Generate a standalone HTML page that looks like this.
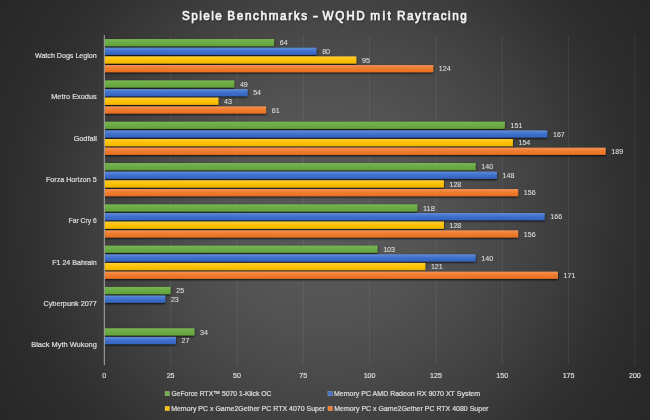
<!DOCTYPE html>
<html><head><meta charset="utf-8"><title>Spiele Benchmarks - WQHD mit Raytracing</title>
<style>
html,body{margin:0;padding:0;background:#262626;}
body{width:650px;height:420px;overflow:hidden;}
svg{display:block;font-family:"Liberation Sans",sans-serif;}
</style></head><body>
<svg width="650" height="420" viewBox="0 0 650 420">
<defs>
<radialGradient id="bg" cx="325" cy="210" r="387" gradientUnits="userSpaceOnUse">
<stop offset="0.0000" stop-color="#595959"/>
<stop offset="0.2326" stop-color="#555555"/>
<stop offset="0.2997" stop-color="#525252"/>
<stop offset="0.4651" stop-color="#484848"/>
<stop offset="0.6021" stop-color="#3e3e3e"/>
<stop offset="0.7106" stop-color="#353535"/>
<stop offset="0.7881" stop-color="#2f2f2f"/>
<stop offset="0.8269" stop-color="#2d2d2d"/>
<stop offset="1.0000" stop-color="#272727"/>
</radialGradient>
<linearGradient id="g" x1="0" y1="0" x2="0" y2="1"><stop offset="0" stop-color="#78b552"/><stop offset=".5" stop-color="#6bab45"/><stop offset="1" stop-color="#62a23c"/></linearGradient>
<linearGradient id="b" x1="0" y1="0" x2="0" y2="1"><stop offset="0" stop-color="#618bd8"/><stop offset=".5" stop-color="#3f70cb"/><stop offset="1" stop-color="#3363bf"/></linearGradient>
<linearGradient id="y" x1="0" y1="0" x2="0" y2="1"><stop offset="0" stop-color="#ffcd38"/><stop offset=".5" stop-color="#fec200"/><stop offset="1" stop-color="#f0b600"/></linearGradient>
<linearGradient id="o" x1="0" y1="0" x2="0" y2="1"><stop offset="0" stop-color="#f39355"/><stop offset=".5" stop-color="#ee7b2d"/><stop offset="1" stop-color="#e97021"/></linearGradient>
<filter id="sh" x="-5%" y="-5%" width="110%" height="110%"><feDropShadow dx="0" dy="1" stdDeviation="1.25" flood-color="#000" flood-opacity=".9"/></filter>
<filter id="ts" x="-5%" y="-50%" width="110%" height="200%"><feDropShadow dx="0.7" dy="0.7" stdDeviation="0.8" flood-color="#000" flood-opacity=".4"/></filter>
</defs>
<rect width="650" height="420" fill="url(#bg)"/>

<g stroke="#fff" stroke-opacity=".075" stroke-width="1">
<line x1="170.62" y1="35" x2="170.62" y2="365.2"/>
<line x1="236.95" y1="35" x2="236.95" y2="365.2"/>
<line x1="303.27" y1="35" x2="303.27" y2="365.2"/>
<line x1="369.60" y1="35" x2="369.60" y2="365.2"/>
<line x1="435.93" y1="35" x2="435.93" y2="365.2"/>
<line x1="502.25" y1="35" x2="502.25" y2="365.2"/>
<line x1="568.57" y1="35" x2="568.57" y2="365.2"/>
<line x1="634.90" y1="35" x2="634.90" y2="365.2"/>
</g>
<g filter="url(#sh)">
<rect x="104.8" y="39.05" width="169.29" height="7.15" fill="url(#g)"/>
<rect x="104.8" y="47.72" width="211.74" height="7.15" fill="url(#b)"/>
<rect x="104.8" y="56.39" width="251.53" height="7.15" fill="url(#y)"/>
<rect x="104.8" y="65.06" width="328.47" height="7.15" fill="url(#o)"/>
<rect x="104.8" y="80.37" width="129.50" height="7.15" fill="url(#g)"/>
<rect x="104.8" y="89.04" width="142.76" height="7.15" fill="url(#b)"/>
<rect x="104.8" y="97.71" width="113.58" height="7.15" fill="url(#y)"/>
<rect x="104.8" y="106.38" width="161.33" height="7.15" fill="url(#o)"/>
<rect x="104.8" y="121.69" width="400.10" height="7.15" fill="url(#g)"/>
<rect x="104.8" y="130.36" width="442.55" height="7.15" fill="url(#b)"/>
<rect x="104.8" y="139.03" width="408.06" height="7.15" fill="url(#y)"/>
<rect x="104.8" y="147.70" width="500.92" height="7.15" fill="url(#o)"/>
<rect x="104.8" y="163.01" width="370.92" height="7.15" fill="url(#g)"/>
<rect x="104.8" y="171.68" width="392.14" height="7.15" fill="url(#b)"/>
<rect x="104.8" y="180.35" width="339.08" height="7.15" fill="url(#y)"/>
<rect x="104.8" y="189.02" width="413.37" height="7.15" fill="url(#o)"/>
<rect x="104.8" y="204.33" width="312.55" height="7.15" fill="url(#g)"/>
<rect x="104.8" y="213.00" width="439.90" height="7.15" fill="url(#b)"/>
<rect x="104.8" y="221.67" width="339.08" height="7.15" fill="url(#y)"/>
<rect x="104.8" y="230.34" width="413.37" height="7.15" fill="url(#o)"/>
<rect x="104.8" y="245.65" width="272.76" height="7.15" fill="url(#g)"/>
<rect x="104.8" y="254.32" width="370.92" height="7.15" fill="url(#b)"/>
<rect x="104.8" y="262.99" width="320.51" height="7.15" fill="url(#y)"/>
<rect x="104.8" y="271.66" width="453.16" height="7.15" fill="url(#o)"/>
<rect x="104.8" y="286.97" width="65.83" height="7.15" fill="url(#g)"/>
<rect x="104.8" y="295.64" width="60.52" height="7.15" fill="url(#b)"/>
<rect x="104.8" y="328.29" width="89.70" height="7.15" fill="url(#g)"/>
<rect x="104.8" y="336.96" width="71.13" height="7.15" fill="url(#b)"/>
</g>
<line x1="104.3" y1="35" x2="104.3" y2="365.2" stroke="#bdbdbd" stroke-width="0.85"/>
<g font-size="7.3" fill="#dedede" stroke="#dedede" stroke-width=".1">
<text x="279.69" y="45.38" textLength="7.90" lengthAdjust="spacingAndGlyphs">64</text>
<text x="322.14" y="54.05" textLength="7.90" lengthAdjust="spacingAndGlyphs">80</text>
<text x="361.94" y="62.72" textLength="7.90" lengthAdjust="spacingAndGlyphs">95</text>
<text x="438.87" y="71.39" textLength="11.85" lengthAdjust="spacingAndGlyphs">124</text>
<text x="239.90" y="86.69" textLength="7.90" lengthAdjust="spacingAndGlyphs">49</text>
<text x="253.16" y="95.36" textLength="7.90" lengthAdjust="spacingAndGlyphs">54</text>
<text x="223.98" y="104.03" textLength="7.90" lengthAdjust="spacingAndGlyphs">43</text>
<text x="271.73" y="112.70" textLength="7.90" lengthAdjust="spacingAndGlyphs">61</text>
<text x="510.50" y="128.01" textLength="11.85" lengthAdjust="spacingAndGlyphs">151</text>
<text x="552.95" y="136.68" textLength="11.85" lengthAdjust="spacingAndGlyphs">167</text>
<text x="518.46" y="145.35" textLength="11.85" lengthAdjust="spacingAndGlyphs">154</text>
<text x="611.32" y="154.02" textLength="11.85" lengthAdjust="spacingAndGlyphs">189</text>
<text x="481.32" y="169.34" textLength="11.85" lengthAdjust="spacingAndGlyphs">140</text>
<text x="502.54" y="178.00" textLength="11.85" lengthAdjust="spacingAndGlyphs">148</text>
<text x="449.48" y="186.68" textLength="11.85" lengthAdjust="spacingAndGlyphs">128</text>
<text x="523.77" y="195.34" textLength="11.85" lengthAdjust="spacingAndGlyphs">156</text>
<text x="422.95" y="210.66" textLength="11.85" lengthAdjust="spacingAndGlyphs">118</text>
<text x="550.30" y="219.32" textLength="11.85" lengthAdjust="spacingAndGlyphs">166</text>
<text x="449.48" y="228.00" textLength="11.85" lengthAdjust="spacingAndGlyphs">128</text>
<text x="523.77" y="236.66" textLength="11.85" lengthAdjust="spacingAndGlyphs">156</text>
<text x="383.16" y="251.97" textLength="11.85" lengthAdjust="spacingAndGlyphs">103</text>
<text x="481.32" y="260.64" textLength="11.85" lengthAdjust="spacingAndGlyphs">140</text>
<text x="430.91" y="269.31" textLength="11.85" lengthAdjust="spacingAndGlyphs">121</text>
<text x="563.56" y="277.99" textLength="11.85" lengthAdjust="spacingAndGlyphs">171</text>
<text x="176.22" y="293.30" textLength="7.90" lengthAdjust="spacingAndGlyphs">25</text>
<text x="170.92" y="301.97" textLength="7.90" lengthAdjust="spacingAndGlyphs">23</text>
<text x="200.10" y="334.62" textLength="7.90" lengthAdjust="spacingAndGlyphs">34</text>
<text x="181.53" y="343.29" textLength="7.90" lengthAdjust="spacingAndGlyphs">27</text>
</g>
<g font-size="7.4" fill="#dedede" stroke="#dedede" stroke-width=".22">
<text x="34.98" y="57.91" textLength="61.79" lengthAdjust="spacingAndGlyphs">Watch Dogs Legion</text>
<text x="51.23" y="99.23" textLength="45.54" lengthAdjust="spacingAndGlyphs">Metro Exodus</text>
<text x="73.63" y="140.55" textLength="23.15" lengthAdjust="spacingAndGlyphs">Godfall</text>
<text x="45.99" y="181.87" textLength="50.77" lengthAdjust="spacingAndGlyphs">Forza Horizon 5</text>
<text x="68.53" y="223.19" textLength="28.20" lengthAdjust="spacingAndGlyphs">Far Cry 6</text>
<text x="52.20" y="264.51" textLength="44.53" lengthAdjust="spacingAndGlyphs">F1 24 Bahrain</text>
<text x="43.48" y="305.83" textLength="53.35" lengthAdjust="spacingAndGlyphs">Cyberpunk 2077</text>
<text x="31.23" y="347.15" textLength="65.68" lengthAdjust="spacingAndGlyphs">Black Myth Wukong</text>
</g>
<g font-size="7.3" fill="#dedede" stroke="#dedede" stroke-width=".2" text-anchor="middle">
<text x="104.30" y="378.2" textLength="3.95" lengthAdjust="spacingAndGlyphs">0</text>
<text x="170.62" y="378.2" textLength="7.90" lengthAdjust="spacingAndGlyphs">25</text>
<text x="236.95" y="378.2" textLength="7.90" lengthAdjust="spacingAndGlyphs">50</text>
<text x="303.27" y="378.2" textLength="7.90" lengthAdjust="spacingAndGlyphs">75</text>
<text x="369.60" y="378.2" textLength="11.85" lengthAdjust="spacingAndGlyphs">100</text>
<text x="435.93" y="378.2" textLength="11.85" lengthAdjust="spacingAndGlyphs">125</text>
<text x="502.25" y="378.2" textLength="11.85" lengthAdjust="spacingAndGlyphs">150</text>
<text x="568.57" y="378.2" textLength="11.85" lengthAdjust="spacingAndGlyphs">175</text>
<text x="634.90" y="378.2" textLength="11.85" lengthAdjust="spacingAndGlyphs">200</text>
</g>
<g transform="scale(0.96,1)" filter="url(#ts)"><text y="20.05" font-size="12.2" fill="#f4f4f4" stroke="#f4f4f4" stroke-width="0.62" stroke-linejoin="round"><tspan x="189.51" textLength="41.48" lengthAdjust="spacing">Spiele</tspan> <tspan x="236.77" textLength="83.16" lengthAdjust="spacing">Benchmarks</tspan> <tspan x="325.68" textLength="5.55" lengthAdjust="spacingAndGlyphs">-</tspan> <tspan x="336.03" textLength="43.92" lengthAdjust="spacing">WQHD</tspan> <tspan x="385.75" textLength="21.43" lengthAdjust="spacing">mit</tspan> <tspan x="413.50" textLength="72.75" lengthAdjust="spacing">Raytracing</tspan></text></g>
<g font-size="7.2" fill="#dedede" stroke="#dedede" stroke-width=".22">
<rect x="165" y="391.3" width="4.6" height="4.6" fill="#70ad47"/>
<text x="171.42" y="396.1" textLength="99.96" lengthAdjust="spacingAndGlyphs">GeForce RTX™ 5070 1-Klick OC</text>
<rect x="327.9" y="391.3" width="4.6" height="4.6" fill="#4472c4"/>
<text x="334.03" y="396.1" textLength="146.11" lengthAdjust="spacingAndGlyphs">Memory PC AMD Radeon RX 9070 XT System</text>
<rect x="165" y="406.2" width="4.6" height="4.6" fill="#ffc000"/>
<text x="171.17" y="410.9" textLength="153.99" lengthAdjust="spacingAndGlyphs">Memory PC x Game2Gether PC RTX 4070 Super</text>
<rect x="327.9" y="406.2" width="4.6" height="4.6" fill="#ed7d31"/>
<text x="334.19" y="410.9" textLength="154.19" lengthAdjust="spacingAndGlyphs">Memory PC x Game2Gether PC RTX 4080 Super</text>
</g>
</svg></body></html>
